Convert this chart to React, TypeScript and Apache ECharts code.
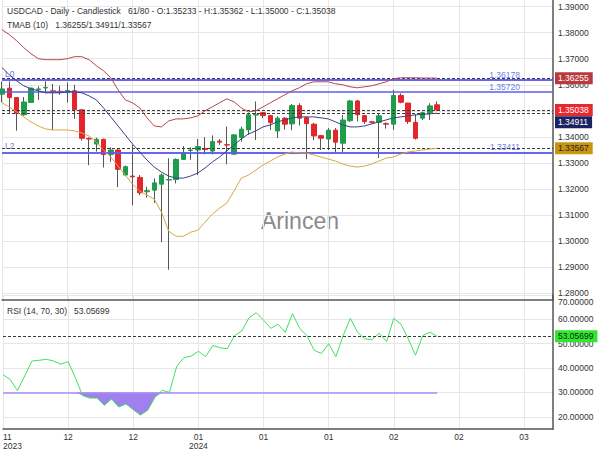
import React, { useEffect, useRef } from 'react';
import * as echarts from 'echarts';

const SYMBOL = 'USDCAD';
const TIMEFRAME = 'Daily';
const CHART_TYPE = 'Candlestick';
const BARS_TOTAL = 80;
const TMAB_PERIOD = 10;
const RSI_PERIOD = 14;
const RSI_OVERBOUGHT = 70;
const RSI_OVERSOLD = 30;
const WATERMARK = 'Arincen';

const OPEN = [
  1.3564, 1.3587, 1.3551, 1.3485, 1.3532, 1.3582, 1.3588, 1.3577, 1.3575, 1.3570,
  1.3577, 1.3504, 1.3394, 1.3373, 1.3391, 1.3333, 1.3350, 1.3254, 1.3250, 1.3245,
  1.3190, 1.3196, 1.3219, 1.3235, 1.3237, 1.3314, 1.3348, 1.3350, 1.3355, 1.3346,
  1.3384, 1.3370, 1.3334, 1.3397, 1.3427, 1.3484, 1.3493, 1.3482, 1.3423, 1.3472,
  1.3450, 1.3520, 1.3474, 1.3449, 1.3405, 1.3392, 1.3426, 1.3376, 1.3462, 1.3538,
  1.3482, 1.3458, 1.3456, 1.3451, 1.3449, 1.3559, 1.3530, 1.3456, 1.3472, 1.3493,
  1.35233,
];
const CLOSE = [
  1.3584, 1.3551, 1.3491, 1.3534, 1.3587, 1.3584, 1.3590, 1.3572, 1.3572, 1.3578,
  1.3504, 1.3395, 1.3392, 1.3391, 1.3333, 1.3350, 1.3276, 1.3286, 1.3247, 1.3186,
  1.3194, 1.3224, 1.3254, 1.3237, 1.3314, 1.3340, 1.3350, 1.3363, 1.3352, 1.3382,
  1.3380, 1.3369, 1.3408, 1.3430, 1.3485, 1.3487, 1.3482, 1.3455, 1.3472, 1.3449,
  1.3520, 1.3472, 1.3451, 1.3404, 1.3395, 1.3426, 1.3380, 1.3465, 1.3538, 1.3485,
  1.3459, 1.3456, 1.3481, 1.3449, 1.3559, 1.3533, 1.3459, 1.3395, 1.3493, 1.3519,
  1.35038,
];
const HIGH = [
  1.3613, 1.3613, 1.3553, 1.3553, 1.3590, 1.3594, 1.3613, 1.3603, 1.3596, 1.3609,
  1.3600, 1.3506, 1.3399, 1.3397, 1.3393, 1.3360, 1.3353, 1.3290, 1.3369, 1.3254,
  1.3209, 1.3241, 1.3260, 1.3318, 1.3318, 1.3365, 1.3360, 1.3392, 1.3399, 1.3406,
  1.3392, 1.3440, 1.3411, 1.3440, 1.3493, 1.3536, 1.3496, 1.3485, 1.3479, 1.3476,
  1.3526, 1.3529, 1.3478, 1.3454, 1.3408, 1.3434, 1.3434, 1.3484, 1.3542, 1.3542,
  1.3485, 1.3462, 1.3488, 1.3456, 1.3581, 1.3567, 1.3530, 1.3487, 1.3496, 1.3529,
  1.35362,
];
const LOW = [
  1.3532, 1.3492, 1.3424, 1.3482, 1.3530, 1.3542, 1.3568, 1.3427, 1.3562, 1.3532,
  1.3469, 1.3386, 1.3292, 1.3344, 1.3283, 1.3305, 1.3207, 1.3250, 1.3138, 1.3177,
  1.3168, 1.3147, 1.2997, 1.2891, 1.3222, 1.3312, 1.3312, 1.3254, 1.3333, 1.3333,
  1.3370, 1.3295, 1.3332, 1.3382, 1.3408, 1.3388, 1.3472, 1.3427, 1.3396, 1.3428,
  1.3426, 1.3444, 1.3315, 1.3388, 1.3350, 1.3350, 1.3342, 1.3339, 1.3458, 1.3460,
  1.3450, 1.3452, 1.3319, 1.3432, 1.3427, 1.3529, 1.3450, 1.3390, 1.3465, 1.3465,
  1.35000,
];

const TMAB_UPPER = [
  1.38115, 1.37923, 1.37692, 1.37423, 1.37192, 1.37000, 1.36962, 1.36962, 1.36962, 1.37000,
  1.37077, 1.37077, 1.36962, 1.36731, 1.36538, 1.36269, 1.35808, 1.35423, 1.35308, 1.35115,
  1.34731, 1.34423, 1.34385, 1.34615, 1.34692, 1.34692, 1.34731, 1.34808, 1.35000, 1.35154,
  1.35308, 1.35462, 1.35346, 1.35115, 1.34962, 1.35000, 1.35154, 1.35308, 1.35462, 1.35615,
  1.35769, 1.35885, 1.36038, 1.36115, 1.36115, 1.36115, 1.36038, 1.36000, 1.35923, 1.35885,
  1.35923, 1.35962, 1.36038, 1.36115, 1.36231, 1.36269, 1.36269, 1.36269, 1.36260, 1.36258,
  1.36255,
];
const TMAB_MID = [
  1.36654, 1.36385, 1.36154, 1.35962, 1.35846, 1.35769, 1.35692, 1.35692, 1.35692, 1.35731,
  1.35731, 1.35692, 1.35577, 1.35423, 1.35115, 1.34769, 1.34423, 1.34077, 1.33731, 1.33423,
  1.33115, 1.32846, 1.32654, 1.32500, 1.32423, 1.32423, 1.32500, 1.32615, 1.32808, 1.33038,
  1.33231, 1.33462, 1.33692, 1.33923, 1.34115, 1.34231, 1.34385, 1.34462, 1.34577, 1.34654,
  1.34731, 1.34769, 1.34769, 1.34769, 1.34731, 1.34692, 1.34577, 1.34462, 1.34385, 1.34385,
  1.34423, 1.34500, 1.34577, 1.34654, 1.34731, 1.34769, 1.34808, 1.34846, 1.34865, 1.34885,
  1.34911,
];
const TMAB_LOWER = [
  1.35308, 1.35154, 1.34962, 1.34769, 1.34577, 1.34423, 1.34308, 1.34269, 1.34269, 1.34269,
  1.34231, 1.34154, 1.34038, 1.33808, 1.33500, 1.33231, 1.32885, 1.32538, 1.32192, 1.31923,
  1.31769, 1.31615, 1.31115, 1.30385, 1.30192, 1.30192, 1.30346, 1.30423, 1.30731, 1.31038,
  1.31269, 1.31462, 1.31923, 1.32423, 1.32538, 1.32731, 1.32923, 1.33077, 1.33231, 1.33346,
  1.33423, 1.33385, 1.33385, 1.33308, 1.33231, 1.33154, 1.33077, 1.32962, 1.32885, 1.32846,
  1.32885, 1.32962, 1.33077, 1.33192, 1.33231, 1.33346, 1.33423, 1.33462, 1.33500, 1.33538,
  1.33567,
];

const RSI = [
  37.3, 35.3, 30.7, 36.8, 42.9, 43.2, 43.6, 42.9, 41.6, 42.7,
  36.0, 28.7, 27.7, 27.7, 24.7, 27.3, 24.0, 25.3, 22.9, 20.7,
  22.7, 28.0, 30.9, 30.0, 40.7, 44.3, 44.9, 46.9, 44.7, 49.3,
  48.3, 48.0, 53.3, 55.3, 60.7, 62.7, 59.7, 56.3, 58.0, 54.7,
  62.3, 56.3, 53.3, 47.3, 46.0, 50.0, 44.7, 53.3, 60.4, 54.7,
  52.0, 51.7, 54.3, 50.9, 60.4, 58.0, 52.0, 45.3, 53.3, 54.7,
  53.05699,
];

const LEVEL_NAMES = ['L0', '', 'L2'];
const LEVEL_VALUES = [1.36178, 1.3572, 1.33411];

const X_TICK_LABELS = ['11\n2023', '12', '12', '01\n2024', '01', '01', '02', '02', '03'];
const X_SLOTS = 77;
const X_TICK_STEP = 9;

const PRICE_MIN = 1.2775;
const PRICE_MAX = 1.3925;
const PRICE_LABEL_STEP = 0.01;
const RSI_MIN = 15;
const RSI_MAX = 70;
const RSI_LABEL_STEP = 10;

const FONT = '"Liberation Sans", Arial, sans-serif';
const UP = '#1e9e4c';
const DOWN = '#e3262b';
const WICK = '#555555';
const GRID = '#e6e6e6';
const AXIS = '#555555';
const TEXT = '#333333';
const BLUE = '#5c5cf0';
const BLUE_TEXT = '#6b80e6';
const DASH = '#3a3a3a';
const T = 'rgba(0,0,0,0)';

const f5 = (v: number) => v.toFixed(5);
const onStep = (v: number, step: number) => Math.abs(v / step - Math.round(v / step)) < 1e-6;

export default function App() {
  const ref = useRef<HTMLDivElement>(null);

  useEffect(() => {
    document.body.style.margin = '0';
    if (!ref.current) return;
    const chart = echarts.init(ref.current, undefined, { renderer: 'svg' });
    const n = OPEN.length;
    const last = n - 1;
    const categories = Array.from({ length: X_SLOTS }, (_, i) => String(i));
    const wickData = OPEN.map((o, i) => [o, CLOSE[i], LOW[i], HIGH[i]]);
    const bodyData = OPEN.map((o, i) => [o, CLOSE[i], Math.min(o, CLOSE[i]), Math.max(o, CLOSE[i])]);
    const rsiBase = RSI.map((v) => Math.min(v, RSI_OVERSOLD));
    const rsiFill = RSI.map((v) => RSI_OVERSOLD - Math.min(v, RSI_OVERSOLD));

    const dashed = { color: DASH, type: [3, 2] as any, width: 1 };
    const tag = (value: number, bg: string, fg: string, offsetY = 0) => ({
      show: true,
      position: 'end',
      distance: 2,
      formatter: () => f5(value),
      backgroundColor: bg,
      color: fg,
      fontSize: 8.5,
      fontFamily: FONT,
      padding: [2, 4, 1, 3],
      offset: [0, offsetY],
    });

    const levelLines: any[] = [];
    LEVEL_VALUES.forEach((v, k) => {
      levelLines.push({
        yAxis: v,
        lineStyle: { color: BLUE, width: 1.5, type: 'solid' },
        label: {
          show: true,
          position: 'insideEndTop',
          distance: [33, 1],
          formatter: () => f5(v),
          color: BLUE_TEXT,
          fontSize: 8.5,
          fontFamily: FONT,
        },
      });
      if (LEVEL_NAMES[k]) {
        levelLines.push({
          yAxis: v,
          lineStyle: { color: BLUE, width: 1.5, type: 'solid' },
          label: {
            show: true,
            position: 'insideStartTop',
            distance: [3, 2],
            formatter: () => LEVEL_NAMES[k],
            color: BLUE_TEXT,
            fontSize: 8.5,
            fontFamily: FONT,
          },
        });
      }
    });

    const header1 = `${SYMBOL} - ${TIMEFRAME} - ${CHART_TYPE}   ${n}/${BARS_TOTAL} - O:${f5(OPEN[last])} - H:${f5(HIGH[last])} - L:${f5(LOW[last])} - C:${f5(CLOSE[last])}`;
    const header2 = `TMAB (${TMAB_PERIOD})   ${f5(TMAB_UPPER[last])}/${f5(TMAB_MID[last])}/${f5(TMAB_LOWER[last])}`;
    const header3 = `RSI (${RSI_PERIOD}, ${RSI_OVERBOUGHT}, ${RSI_OVERSOLD})   ${f5(RSI[last])}`;

    const xAxisBase = {
      type: 'category',
      data: categories,
      boundaryGap: false,
      axisTick: { show: false },
      axisLine: { show: true, lineStyle: { color: AXIS, width: 1.5 } },
      splitLine: { show: true, interval: X_TICK_STEP - 1, lineStyle: { color: GRID, width: 1 } },
    };

    const option: any = {
      animation: false,
      textStyle: { fontFamily: FONT },
      grid: [
        { left: 2, right: 47, top: 0, height: 300 },
        { left: 2, right: 47, top: 295, height: 137 },
      ],
      xAxis: [
        { ...xAxisBase, gridIndex: 0, axisLabel: { show: false } },
        {
          ...xAxisBase,
          gridIndex: 1,
          axisLabel: {
            show: true,
            interval: X_TICK_STEP - 1,
            formatter: (_v: string, idx: number) => X_TICK_LABELS[idx / X_TICK_STEP] ?? '',
            color: TEXT,
            fontSize: 8.5,
            lineHeight: 9,
            margin: 3,
            alignMinLabel: 'left',
          },
        },
      ],
      yAxis: [
        {
          type: 'value',
          gridIndex: 0,
          position: 'right',
          min: PRICE_MIN,
          max: PRICE_MAX,
          interval: 0.0025,
          axisLine: { show: true, lineStyle: { color: AXIS, width: 1.5 } },
          axisTick: { show: false },
          axisLabel: {
            formatter: (v: number) => (onStep(v, PRICE_LABEL_STEP) ? f5(v) : ''),
            color: TEXT,
            fontSize: 8.5,
            margin: 5,
            backgroundColor: '#ffffff',
          },
          splitLine: { show: true, lineStyle: { color: [T, GRID, T, T], width: 1 } },
        },
        {
          type: 'value',
          gridIndex: 1,
          position: 'right',
          min: RSI_MIN,
          max: RSI_MAX,
          interval: 5,
          axisLine: { show: true, lineStyle: { color: AXIS, width: 1.5 } },
          axisTick: { show: false },
          axisLabel: {
            formatter: (v: number) =>
              onStep(v, RSI_LABEL_STEP) ? (v === RSI_MAX ? `{t|${f5(v)}}` : f5(v)) : '',
            color: TEXT,
            fontSize: 8.5,
            margin: 5,
            rich: { t: { padding: [13, 0, 0, 0], color: TEXT, fontSize: 8.5 } },
          },
          splitLine: { show: true, lineStyle: { color: [T, GRID], width: 1 } },
        },
      ],
      graphic: [
        {
          type: 'text',
          left: 'center',
          top: 209,
          z: 0,
          style: { text: WATERMARK, fontSize: 23, fill: '#8a8a8a', fontFamily: FONT },
        },
        { type: 'text', left: 7, top: 6, z: 10, style: { text: header1, fontSize: 8.5, fill: TEXT, fontFamily: FONT } },
        { type: 'text', left: 7, top: 20, z: 10, style: { text: header2, fontSize: 8.5, fill: TEXT, fontFamily: FONT } },
        { type: 'text', left: 7, top: 306, z: 10, style: { text: header3, fontSize: 8.5, fill: TEXT, fontFamily: FONT } },
      ],
      series: [
        {
          name: 'wick',
          type: 'candlestick',
          xAxisIndex: 0,
          yAxisIndex: 0,
          data: wickData,
          barWidth: 1,
          z: 2,
          itemStyle: { color: WICK, color0: WICK, borderColor: WICK, borderColor0: WICK, borderWidth: 1 },
        },
        {
          name: 'body',
          type: 'candlestick',
          xAxisIndex: 0,
          yAxisIndex: 0,
          data: bodyData,
          barWidth: 5,
          z: 3,
          itemStyle: { color: UP, color0: DOWN, borderColor: UP, borderColor0: DOWN, borderWidth: 1 },
          markLine: {
            silent: true,
            symbol: 'none',
            precision: 5,
            z: 4,
            data: [
              ...levelLines,
              { yAxis: CLOSE[last], lineStyle: dashed, label: tag(CLOSE[last], '#e8282c', '#ffffff') },
            ],
          },
        },
        {
          name: 'upper',
          type: 'line',
          data: TMAB_UPPER,
          showSymbol: false,
          z: 5,
          lineStyle: { color: '#b8474a', width: 1 },
          markLine: {
            silent: true,
            symbol: 'none',
            precision: 5,
            data: [{ yAxis: TMAB_UPPER[last], lineStyle: dashed, label: tag(TMAB_UPPER[last], '#b8393e', '#ffffff') }],
          },
        },
        {
          name: 'mid',
          type: 'line',
          data: TMAB_MID,
          showSymbol: false,
          z: 5,
          lineStyle: { color: '#3d4180', width: 1 },
          markLine: {
            silent: true,
            symbol: 'none',
            precision: 5,
            data: [{ yAxis: TMAB_MID[last], lineStyle: dashed, label: tag(TMAB_MID[last], '#1c2260', '#ffffff', 9) }],
          },
        },
        {
          name: 'lower',
          type: 'line',
          data: TMAB_LOWER,
          showSymbol: false,
          z: 5,
          lineStyle: { color: '#d9a645', width: 1 },
          markLine: {
            silent: true,
            symbol: 'none',
            precision: 5,
            data: [{ yAxis: TMAB_LOWER[last], lineStyle: dashed, label: tag(TMAB_LOWER[last], '#c8960e', '#222222') }],
          },
        },
        {
          name: 'rsiBase',
          type: 'line',
          xAxisIndex: 1,
          yAxisIndex: 1,
          stack: 'os',
          data: rsiBase,
          showSymbol: false,
          lineStyle: { opacity: 0 },
          z: 2,
        },
        {
          name: 'rsiFill',
          type: 'line',
          xAxisIndex: 1,
          yAxisIndex: 1,
          stack: 'os',
          data: rsiFill,
          showSymbol: false,
          lineStyle: { opacity: 0 },
          areaStyle: { color: '#a27ff0', opacity: 1 },
          z: 2,
        },
        {
          name: 'rsi',
          type: 'line',
          xAxisIndex: 1,
          yAxisIndex: 1,
          data: RSI,
          showSymbol: false,
          z: 4,
          lineStyle: { color: '#3fe060', width: 1 },
          markLine: {
            silent: true,
            symbol: 'none',
            precision: 5,
            data: [
              [
                { xAxis: '0', yAxis: RSI_OVERSOLD, lineStyle: { color: '#a68cf5', width: 1.5, type: 'solid' } },
                { xAxis: String(last), yAxis: RSI_OVERSOLD },
              ],
              { yAxis: RSI[last], lineStyle: dashed, label: tag(RSI[last], '#2ee82e', '#1a1a1a') },
            ],
            label: { show: false },
          },
        },
      ],
    };

    chart.setOption(option);
    return () => chart.dispose();
  }, []);

  return (
    <div
      ref={ref}
      style={{ position: 'absolute', left: 0, top: 0, width: 600, height: 450 }}
    />
  );
}
